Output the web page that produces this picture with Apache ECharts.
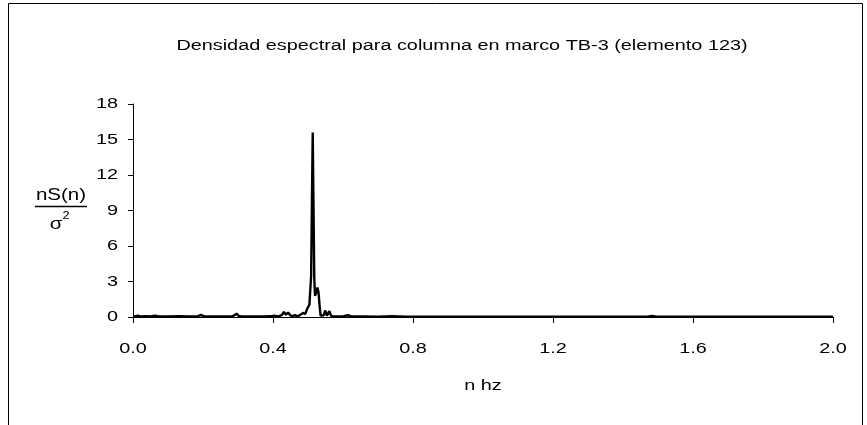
<!DOCTYPE html>
<html>
<head>
<meta charset="utf-8">
<script src="https://cdn.jsdelivr.net/npm/echarts@6/dist/echarts.min.js"></script>
<style>html,body{margin:0;padding:0;background:#fff}#c{width:867px;height:425px}</style>
</head>
<body>
<div id="c"></div>
<script>
var freq = [0.000,0.007,0.014,0.020,0.035,0.050,0.063,0.075,0.100,0.130,0.160,0.185,0.194,0.203,0.230,0.260,0.285,0.296,0.302,0.310,0.340,0.370,0.395,0.403,0.415,0.425,0.431,0.437,0.443,0.450,0.457,0.463,0.470,0.478,0.486,0.492,0.497,0.501,0.504,0.507,0.509,0.5115,0.5135,0.5155,0.518,0.520,0.523,0.527,0.530,0.533,0.536,0.540,0.545,0.549,0.554,0.558,0.561,0.566,0.572,0.585,0.600,0.614,0.625,0.660,0.700,0.740,0.780,0.850,0.950,1.100,1.300,1.470,1.483,1.495,1.700,1.900,2.000];
var density = [0.05,0.06,0.12,0.05,0.06,0.04,0.12,0.05,0.04,0.06,0.04,0.05,0.18,0.05,0.04,0.05,0.06,0.28,0.10,0.05,0.04,0.05,0.06,0.12,0.05,0.15,0.42,0.20,0.38,0.12,0.08,0.15,0.06,0.18,0.35,0.25,0.65,0.55,1.05,1.1,3.5,10.5,15.6,10.0,3.2,1.8,2.0,2.5,2.1,1.0,0.12,0.05,0.15,0.55,0.12,0.20,0.50,0.10,0.06,0.04,0.05,0.15,0.04,0.05,0.03,0.06,0.03,0.03,0.03,0.02,0.02,0.03,0.08,0.03,0.02,0.02,0.02];
var xTicks = ['0.0','0.4','0.8','1.2','1.6','2.0'];
var yTicks = ['0','3','6','9','12','15','18'];
var titleText = 'Densidad espectral para columna en marco TB-3 (elemento 123)';
var xName = 'n hz';

var pts = freq.map(function(f,i){return [f,density[i]];});
var chart = echarts.init(document.getElementById('c'), null, {renderer:'canvas'});
var font = '"Liberation Sans", Arial, sans-serif';
var SX = 1.28;
chart.setOption({
  animation:false,
  backgroundColor:'#fff',
  grid:{left:133,right:34,top:104,bottom:108,containLabel:false},
  xAxis:{type:'value',min:0,max:2,interval:0.4,
    axisLine:{show:true,onZero:false,lineStyle:{color:'#000',width:1}},
    axisTick:{show:true,length:6,lineStyle:{color:'#000'}},
    axisLabel:{show:false},
    splitLine:{show:false}},
  yAxis:{type:'value',min:0,max:18,interval:3,
    axisLine:{show:true,lineStyle:{color:'#000',width:1}},
    axisTick:{show:true,length:5,lineStyle:{color:'#000'}},
    axisLabel:{show:false},
    splitLine:{show:false}},
  series:[{type:'line',data:pts,showSymbol:false,symbol:'none',
    lineStyle:{color:'#000',width:2.4},z:3}]
});

function txt(t,x,y,size,align,sx){
  return {type:'text',x:x,y:y,scaleX:sx||SX,silent:true,
    style:{text:t,font:size+'px '+font,fill:'#000',textAlign:align||'center',textVerticalAlign:'middle'}};
}
var g = [
  {type:'rect',shape:{x:8.5,y:3.5,width:854,height:500},style:{fill:'none',stroke:'#000',lineWidth:1},silent:true},
  txt(titleText,462,46,15.5,'center'),
  txt('nS(n)',61,196,16,'center'),
  {type:'line',silent:true,shape:{x1:35,y1:206.5,x2:87,y2:206.5},style:{stroke:'#000',lineWidth:1.5}},
  txt('σ',56,225,16,'center'),
  txt('2',66,216,10,'center')
];
var x0 = chart.convertToPixel({xAxisIndex:0},0);
var yBase = chart.convertToPixel({yAxisIndex:0},0);
xTicks.forEach(function(t){
  var px = chart.convertToPixel({xAxisIndex:0},parseFloat(t));
  g.push(txt(t,px,349,15.5,'center'));
});
yTicks.forEach(function(t){
  var py = chart.convertToPixel({yAxisIndex:0},parseFloat(t));
  g.push(txt(t,x0-15,py,15.5,'right'));
});
g.push(txt(xName,(x0+chart.convertToPixel({xAxisIndex:0},2))/2,386,15.5,'center'));
chart.setOption({graphic:g});
</script>
</body>
</html>
